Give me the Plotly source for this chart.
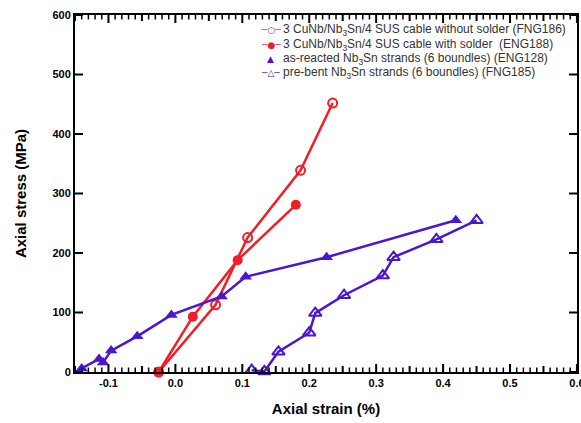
import plotly.graph_objects as go

# ---- data ----
fng186_x = [-0.025, 0.060, 0.108, 0.187, 0.235]
fng186_y = [0, 113, 226, 339, 452]

eng188_x = [-0.025, 0.026, 0.093, 0.180]
eng188_y = [0, 93, 188, 281]

eng128_x = [-0.140, -0.114, -0.108, -0.096, -0.057, -0.006, 0.069, 0.105, 0.226, 0.419]
eng128_y = [6, 22, 16, 36, 60, 96, 127, 160, 193, 255]

fng185_x = [0.114, 0.133, 0.154, 0.200, 0.209, 0.252, 0.310, 0.326, 0.390, 0.450]
fng185_y = [3, 1, 34, 66, 99, 129, 162, 193, 223, 255]

legend_names = [
    "3 CuNb/Nb<sub>3</sub>Sn/4 SUS cable without solder (FNG186)",
    "3 CuNb/Nb<sub>3</sub>Sn/4 SUS cable with solder  (ENG188)",
    "as-reacted Nb<sub>3</sub>Sn strands (6 boundles) (ENG128)",
    "pre-bent Nb<sub>3</sub>Sn strands (6 boundles) (FNG185)",
]

x_major_ticks = [-0.1, 0.0, 0.1, 0.2, 0.3, 0.4, 0.5, 0.6]
x_major_text = ["-0.1", "0.0", "0.1", "0.2", "0.3", "0.4", "0.5", "0.6"]
x_minor_ticks = [round(-0.15 + 0.01 * i, 2) for i in range(76)]
y_major_ticks = [0, 100, 200, 300, 400, 500, 600]

RED = "#f01e28"
BLUE = "#4a16d2"
legend_symbols = [
    f"<span style='color:{RED}'>─○─</span>",
    f"<span style='color:{RED}'>─●─</span>",
    f"<span style='color:{BLUE}'>▲</span>",
    f"<span style='color:{BLUE}'>─△─</span>",
]

fig = go.Figure()
fig.add_trace(go.Scatter(x=fng186_x, y=fng186_y, mode="lines+markers", name=legend_names[0],
                         line=dict(color=RED, width=2.5),
                         marker=dict(symbol="circle-open", size=9, color=RED, line=dict(width=2)),
                         cliponaxis=False))
fig.add_trace(go.Scatter(x=eng188_x, y=eng188_y, mode="lines+markers", name=legend_names[1],
                         line=dict(color=RED, width=2.5),
                         marker=dict(symbol="circle", size=10, color=RED),
                         cliponaxis=False))
fig.add_trace(go.Scatter(x=eng128_x, y=eng128_y, mode="lines+markers", name=legend_names[2],
                         line=dict(color=BLUE, width=2.5),
                         marker=dict(symbol="triangle-up", size=11, color=BLUE),
                         cliponaxis=False))
fig.add_trace(go.Scatter(x=fng185_x, y=fng185_y, mode="lines+markers", name=legend_names[3],
                         line=dict(color=BLUE, width=2.5),
                         marker=dict(symbol="triangle-up-open", size=11, color=BLUE, line=dict(width=2)),
                         cliponaxis=False))

# legend built as text rows (tight row spacing like the reference)
row_y = [0.957, 0.917, 0.877, 0.837]
for sym, name, yy in zip(legend_symbols, legend_names, row_y):
    fig.add_annotation(xref="paper", yref="paper", x=0.39, y=yy, xanchor="center", yanchor="middle",
                       text=sym, showarrow=False,
                       font=dict(family="DejaVu Sans", size=9, color="#333"))
    fig.add_annotation(xref="paper", yref="paper", x=0.410, y=yy, xanchor="left", yanchor="middle",
                       text=name, showarrow=False, align="left",
                       font=dict(family="Liberation Sans, Arial", size=12, color="#333"))

# inside tick marks on all four sides (axis decoration)
PLOT_W, PLOT_H = 502, 357
for xv in x_minor_ticks:
    k = round(xv * 100)
    ln = 8 if k % 10 == 0 else (6 if k % 5 == 0 else 4.5)
    w = 2 if k % 5 == 0 else 1.5
    h = ln / PLOT_H
    fig.add_shape(type="line", xref="x", yref="paper", x0=xv, x1=xv, y0=0, y1=h,
                  line=dict(color="black", width=w), layer="above")
    fig.add_shape(type="line", xref="x", yref="paper", x0=xv, x1=xv, y0=1, y1=1 - h,
                  line=dict(color="black", width=w), layer="above")
for yv in y_major_ticks:
    wl = 8 / PLOT_W
    fig.add_shape(type="line", xref="paper", yref="y", x0=0, x1=wl, y0=yv, y1=yv,
                  line=dict(color="black", width=2), layer="above")
    fig.add_shape(type="line", xref="paper", yref="y", x0=1, x1=1 - wl, y0=yv, y1=yv,
                  line=dict(color="black", width=2), layer="above")

tick_font = dict(family="Liberation Sans, Arial", size=11, color="black", weight="bold")

fig.update_xaxes(range=[-0.15, 0.6001], tickmode="array", tickvals=x_major_ticks, ticktext=x_major_text,
                 ticks="", showline=True, linecolor="black", linewidth=2, mirror=True,
                 showgrid=False, zeroline=False, tickfont=tick_font,
                 automargin=False, ticklabeloverflow="allow",
                 title=dict(text="<b>Axial strain (%)</b>", standoff=15,
                            font=dict(family="Liberation Sans, Arial", size=15, color="black")))
fig.update_yaxes(range=[0, 600], tickmode="array", tickvals=y_major_ticks,
                 ticks="", showline=True, linecolor="black", linewidth=2, mirror=True,
                 showgrid=False, zeroline=False, tickfont=tick_font,
                 automargin=False,
                 title=dict(text="<b>Axial stress (MPa)</b>", standoff=22,
                            font=dict(family="Liberation Sans, Arial", size=15, color="black")))

fig.update_layout(width=581, height=423, margin=dict(l=75, r=4, t=15, b=51, pad=0),
                  plot_bgcolor="white", paper_bgcolor="white", showlegend=False)

fig.write_html("out.html", config={"displayModeBar": False},
               post_script="document.body.style.margin='0';")
